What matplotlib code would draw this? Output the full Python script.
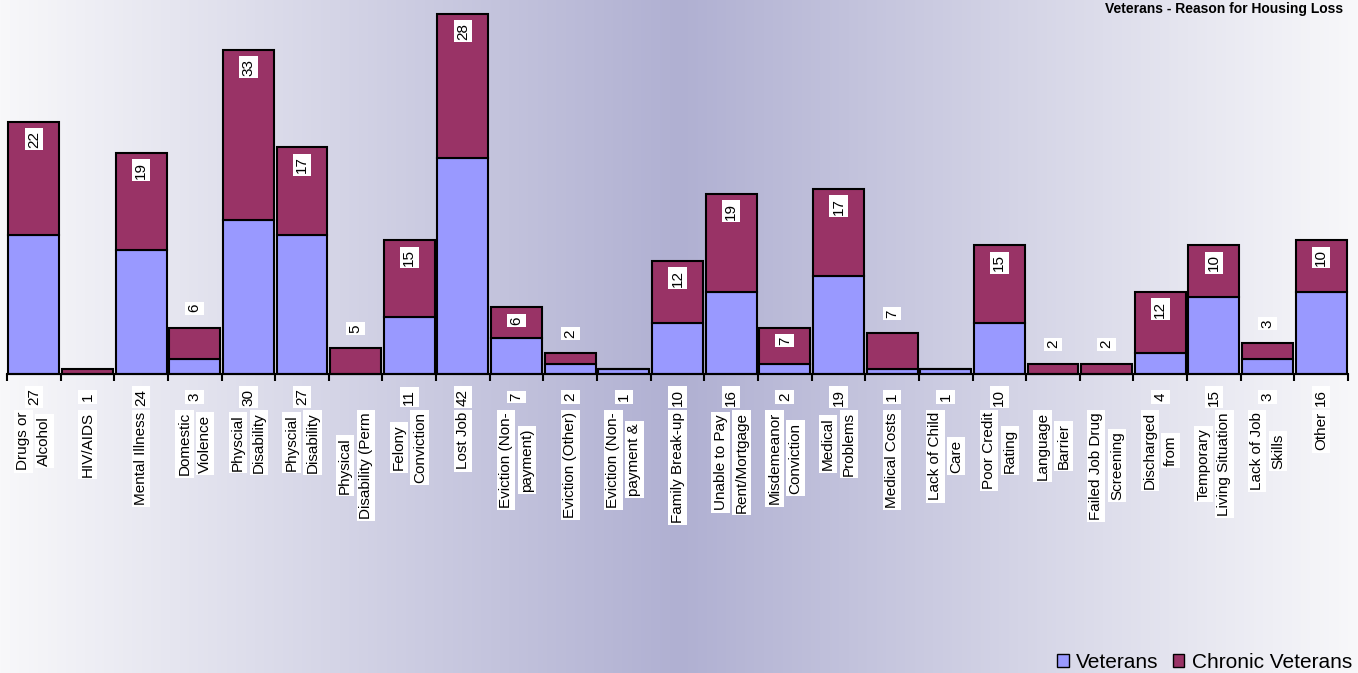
import numpy as np
import matplotlib.pyplot as plt
from matplotlib.patches import Patch
from matplotlib.transforms import blended_transform_factory

plt.rcParams['font.family'] = ['Liberation Sans', 'DejaVu Sans']

# data
categories = ['Drugs or\nAlcohol', 'HIV/AIDS', 'Mental Illness', 'Domestic\nViolence',
              'Physcial\nDisability', 'Physcial\nDisability', 'Physical\nDisability (Perm',
              'Felony\nConviction', 'Lost Job', 'Eviction (Non-\npayment)', 'Eviction (Other)',
              'Eviction (Non-\npayment &', 'Family Break-up', 'Unable to Pay\nRent/Mortgage',
              'Misdemeanor\nConviction', 'Medical\nProblems', 'Medical Costs',
              'Lack of Child\nCare', 'Poor Credit\nRating', 'Language\nBarrier',
              'Failed Job Drug\nScreening', 'Discharged\nfrom', 'Temporary\nLiving Situation',
              'Lack of Job\nSkills', 'Other']
veterans = [27, 0, 24, 3, 30, 27, 0, 11, 42, 7, 2, 1, 10, 16, 2, 19, 1, 1, 10, 0, 0, 4, 15, 3, 16]
chronic = [22, 1, 19, 6, 33, 17, 5, 15, 28, 6, 2, 0, 12, 19, 7, 17, 7, 0, 15, 2, 2, 12, 10, 3, 10]
# labels printed under the axis and on the chronic segment
base_labels = ['27', '1', '24', '3', '30', '27', '', '11', '42', '7', '2', '1', '10', '16',
               '2', '19', '1', '1', '10', '', '', '4', '15', '3', '16']
top_labels = ['22', '', '19', '6', '33', '17', '5', '15', '28', '6', '2', '', '12', '19',
              '7', '17', '7', '', '15', '2', '2', '12', '10', '3', '10']
label_above = [False, False, False, True, False, False, True, False, False, False, True, False,
               False, False, False, False, True, False, False, True, True, False, False, True, False]

W, H = 1358, 673
fig = plt.figure(figsize=(W / 100, H / 100), dpi=100)

# background gradient: pale at the edges, lavender in the middle
bg = fig.add_axes([0, 0, 1, 1], zorder=-5)
xs = np.linspace(0, 1, W)
t = 1 - np.abs(xs - 0.5) * 2
edge = np.array([248, 248, 250]) / 255
mid = np.array([176, 176, 210]) / 255
grad = edge[None, :] + (mid - edge)[None, :] * t[:, None]
bg.imshow(grad[None, :, :], aspect='auto', extent=[0, 1, 0, 1])
bg.axis('off')

ax = fig.add_axes([7 / W, 1 - 374 / H, 1341 / W, 374 / H])
ax.set_facecolor('none')
x = np.arange(len(categories))
tot = np.array(veterans) + np.array(chronic)

ax.bar(x, veterans, width=0.95, color='#9999FF', edgecolor='black', linewidth=1.5, clip_on=False)
ax.bar(x, chronic, bottom=veterans, width=0.95, color='#993366', edgecolor='black',
       linewidth=1.5, clip_on=False)

ax.set_xlim(-0.5, len(categories) - 0.5)
ax.set_ylim(0, 374 / 5.15)
for s in ['top', 'left', 'right']:
    ax.spines[s].set_visible(False)
ax.spines['bottom'].set_linewidth(1.5)
ax.set_yticks([])
ax.set_xticks(np.arange(-0.5, len(categories)))
ax.set_xticklabels([])
ax.tick_params(axis='x', length=5, width=1.5, direction='out')

box = dict(boxstyle='square,pad=0.15', fc='white', ec='none')

# chronic values
for i in range(len(categories)):
    if not top_labels[i]:
        continue
    if label_above[i]:
        ax.annotate(top_labels[i], xy=(i, tot[i]), xytext=(0, 11), textcoords='offset points',
                    rotation=90, ha='center', va='bottom', fontsize=11, bbox=box)
    else:
        ax.annotate(top_labels[i], xy=(i, tot[i]), xytext=(0, -6.5), textcoords='offset points',
                    rotation=90, ha='center', va='top', fontsize=11, bbox=box)

trans = blended_transform_factory(ax.transData, fig.transFigure)

# values under the axis
for i, s in enumerate(base_labels):
    if s:
        ax.text(i, (H - 397) / H, s, transform=trans, rotation=90, ha='center', va='center',
                fontsize=11, bbox=box)

# category names, one white box per line
groups = []
for i, cat in enumerate(categories):
    lines = cat.split('\n')
    n = len(lines)
    texts = []
    for j, line in enumerate(lines):
        tx = ax.text(i + (j - (n - 1) / 2) * 0.39, 0, line, transform=trans, rotation=90,
                     ha='center', va='center', fontsize=11, bbox=box)
        texts.append(tx)
    groups.append(texts)

fig.canvas.draw()
renderer = fig.canvas.get_renderer()
for texts in groups:
    maxh = max(tx.get_window_extent(renderer).height for tx in texts)
    for tx in texts:
        tx.set_y((H - 412 - maxh / 2) / H)

fig.text(1343 / W, 1 - 2 / H, 'Veterans - Reason for Housing Loss', ha='right', va='top',
         fontsize=10, fontweight='bold')

handles = [Patch(facecolor='#9999FF', edgecolor='black', linewidth=1),
           Patch(facecolor='#993366', edgecolor='black', linewidth=1)]
fig.legend(handles, ['Veterans', 'Chronic Veterans'], loc='lower right',
           bbox_to_anchor=(1352 / W, 1 / H), ncol=2, frameon=False, fontsize=15,
           handlelength=0.55, handleheight=0.55, handletextpad=0.35, columnspacing=0.7,
           borderaxespad=0, borderpad=0)

plt.savefig('out.png', dpi=100)
